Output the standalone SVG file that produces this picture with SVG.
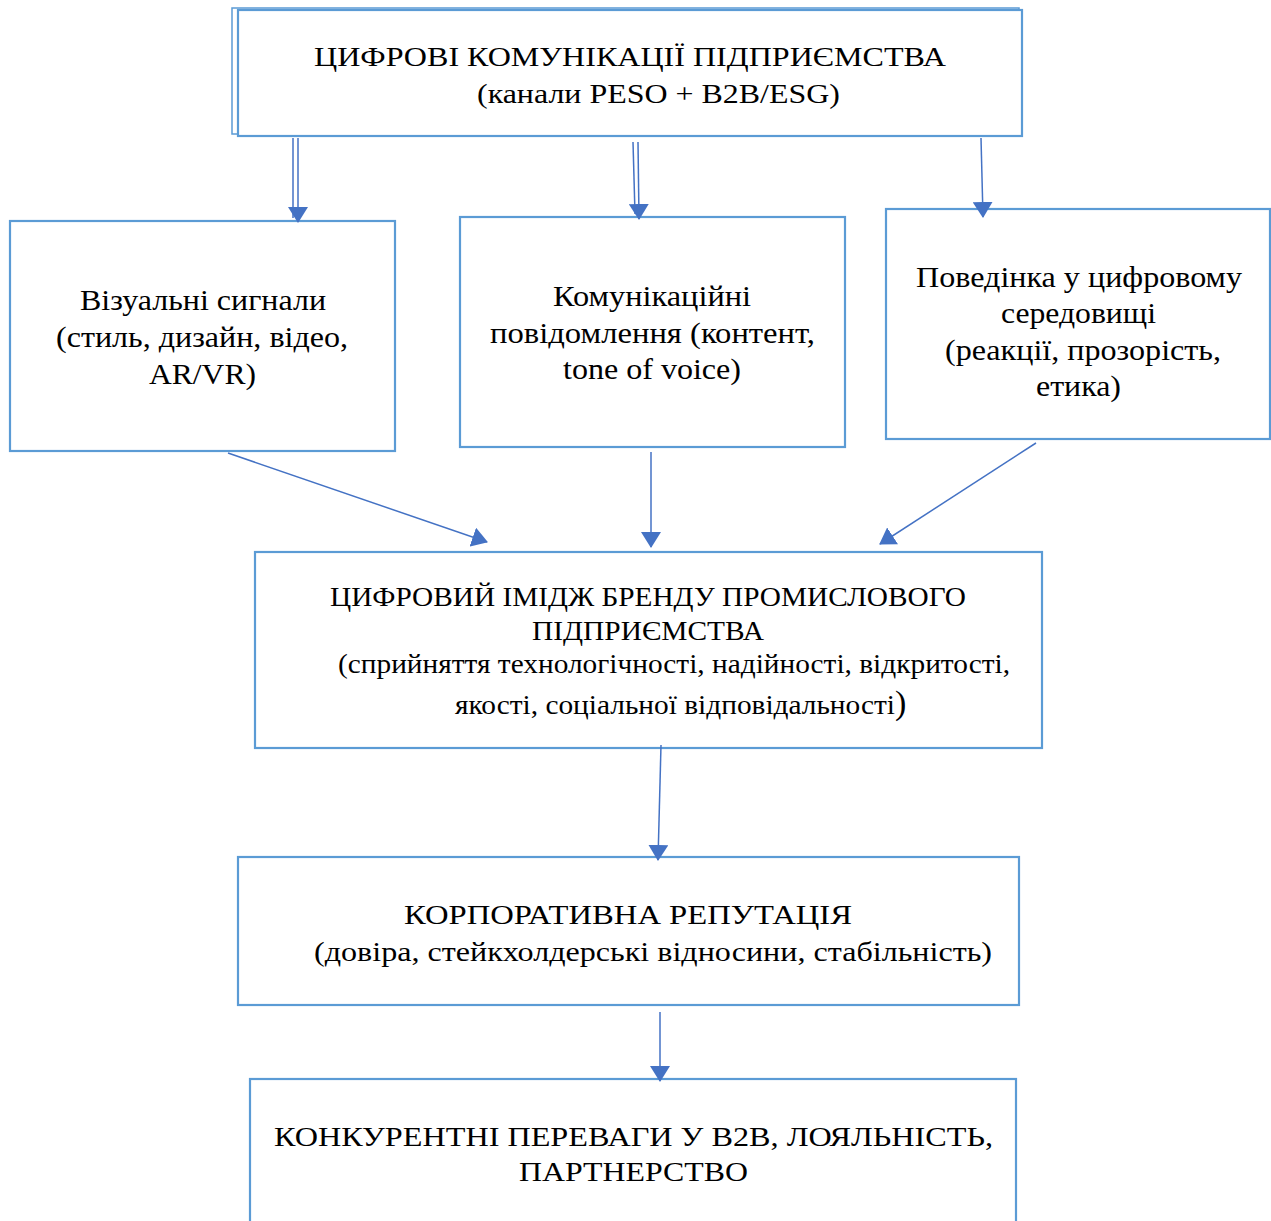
<svg xmlns="http://www.w3.org/2000/svg" width="1271" height="1221" viewBox="0 0 1271 1221">
<style>
.box{fill:#fff;stroke:#5B9BD5;stroke-width:2.2}
.thin{fill:none;stroke:#5B9BD5;stroke-width:1.5}
.c{stroke:#4472C4;stroke-width:1.5;fill:none}
text{font-family:"Liberation Serif","Times New Roman",serif;font-size:28px;fill:#000}
.s{font-size:30px}
</style>
<defs>
<marker id="ah" viewBox="0 0 16 20" refX="15" refY="10" markerWidth="16" markerHeight="20" markerUnits="userSpaceOnUse" orient="auto">
<path d="M0,0 L16,10 L0,20 Z" fill="#4472C4"/>
</marker>
</defs>
<g id="n1">
<rect class="thin" x="232" y="8" width="787" height="126"/>
<rect class="box" x="238" y="10" width="784" height="126"/>
<text x="314" y="66" textLength="632" lengthAdjust="spacingAndGlyphs">ЦИФРОВІ КОМУНІКАЦІЇ ПІДПРИЄМСТВА</text>
<text x="477" y="103" textLength="363" lengthAdjust="spacingAndGlyphs">(канали PESO + B2B/ESG)</text>
</g>
<g id="n2">
<rect class="box" x="10" y="221" width="385" height="230"/>
<text class="s" x="80" y="310" textLength="246" lengthAdjust="spacingAndGlyphs">Візуальні сигнали</text>
<text class="s" x="56" y="347" textLength="292" lengthAdjust="spacingAndGlyphs">(стиль, дизайн, відео,</text>
<text class="s" x="149" y="384" textLength="107" lengthAdjust="spacingAndGlyphs">AR/VR)</text>
</g>
<g id="n3">
<rect class="box" x="460" y="217" width="385" height="230"/>
<text class="s" x="553" y="306" textLength="198" lengthAdjust="spacingAndGlyphs">Комунікаційні</text>
<text class="s" x="490" y="343" textLength="325" lengthAdjust="spacingAndGlyphs">повідомлення (контент,</text>
<text class="s" x="563" y="379" textLength="178" lengthAdjust="spacingAndGlyphs">tone of voice)</text>
</g>
<g id="n4">
<rect class="box" x="886" y="209" width="384" height="230"/>
<text class="s" x="916" y="287" textLength="326" lengthAdjust="spacingAndGlyphs">Поведінка у цифровому</text>
<text class="s" x="1001" y="323" textLength="155" lengthAdjust="spacingAndGlyphs">середовищі</text>
<text class="s" x="945" y="360" textLength="276" lengthAdjust="spacingAndGlyphs">(реакції, прозорість,</text>
<text class="s" x="1036" y="396" textLength="85" lengthAdjust="spacingAndGlyphs">етика)</text>
</g>
<g id="n5">
<rect class="box" x="255" y="552" width="787" height="196"/>
<text x="330" y="606" textLength="636" lengthAdjust="spacingAndGlyphs">ЦИФРОВИЙ ІМІДЖ БРЕНДУ ПРОМИСЛОВОГО</text>
<text x="532" y="640" textLength="232" lengthAdjust="spacingAndGlyphs">ПІДПРИЄМСТВА</text>
<text x="338" y="673" textLength="672" lengthAdjust="spacingAndGlyphs">(сприйняття технологічності, надійності, відкритості,</text>
<text x="455" y="714" textLength="440" lengthAdjust="spacingAndGlyphs">якості, соціальної відповідальності</text>
<text x="895" y="714" style="font-size:34px">)</text>
</g>
<g id="n6">
<rect class="box" x="238" y="857" width="781" height="148"/>
<text x="404" y="924" textLength="448" lengthAdjust="spacingAndGlyphs">КОРПОРАТИВНА РЕПУТАЦІЯ</text>
<text x="314" y="961" textLength="678" lengthAdjust="spacingAndGlyphs">(довіра, стейкхолдерські відносини, стабільність)</text>
</g>
<g id="n7">
<rect class="box" x="250" y="1079" width="766" height="160"/>
<text x="274" y="1146" textLength="719" lengthAdjust="spacingAndGlyphs">КОНКУРЕНТНІ ПЕРЕВАГИ У B2B, ЛОЯЛЬНІСТЬ,</text>
<text x="519" y="1181" textLength="229" lengthAdjust="spacingAndGlyphs">ПАРТНЕРСТВО</text>
</g>
<g id="connectors">
<line class="c" x1="293" y1="138" x2="293" y2="218"/>
<line class="c" x1="298" y1="138" x2="298" y2="222" marker-end="url(#ah)"/>
<line class="c" x1="633" y1="142" x2="635" y2="214"/>
<line class="c" x1="638" y1="142" x2="639" y2="219" marker-end="url(#ah)"/>
<line class="c" x1="981" y1="138" x2="983" y2="217" marker-end="url(#ah)"/>
<line class="c" x1="228" y1="453" x2="487" y2="542" marker-end="url(#ah)"/>
<line class="c" x1="651" y1="452" x2="651" y2="547" marker-end="url(#ah)"/>
<line class="c" x1="1036" y1="443" x2="880" y2="544" marker-end="url(#ah)"/>
<line class="c" x1="661" y1="745" x2="658" y2="860" marker-end="url(#ah)"/>
<line class="c" x1="660" y1="1012" x2="660" y2="1081" marker-end="url(#ah)"/>
</g>
</svg>
